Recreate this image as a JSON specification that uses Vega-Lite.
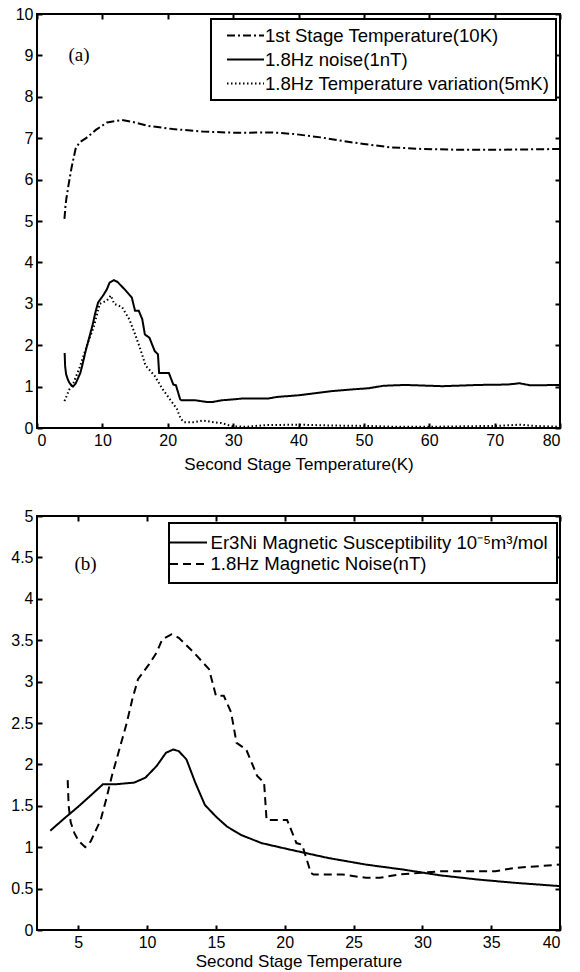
{
  "$schema": "https://vega.github.io/schema/vega-lite/v6.json",
  "background": "white",
  "padding": {"left": 7, "top": 5, "right": 5, "bottom": 5},
  "spacing": 34,
  "resolve": {"scale": {"strokeDash": "independent", "x": "independent", "y": "independent"}, "legend": {"strokeDash": "independent"}},
  "config": {
    "view": {"stroke": "black", "strokeWidth": 2},
    "axis": {"domain": false, "grid": false, "minExtent": 0, "tickColor": "black", "tickSize": -5, "tickWidth": 2, "labelPadding": 9, "labelFont": "Liberation Sans", "labelFontSize": 16, "labelColor": "black", "titleFont": "Liberation Sans", "titleFontSize": 17, "titleFontWeight": "normal", "titleColor": "black", "titlePadding": 6},
    "legend": {"orient": "none", "strokeColor": "black", "strokeWidth": 2, "fillColor": "white", "labelFont": "Liberation Sans", "labelFontSize": 18.6, "labelColor": "black", "symbolType": "M-2,0H2", "symbolSize": 342, "symbolStrokeWidth": 2, "symbolStrokeColor": "black", "labelLimit": 500}
  },
  "datasets": {
    "top": [
      {"s": "1st Stage Temperature(10K)", "T": 4.2, "v": 5.05},
      {"s": "1st Stage Temperature(10K)", "T": 4.35, "v": 5.35},
      {"s": "1st Stage Temperature(10K)", "T": 4.5, "v": 5.55},
      {"s": "1st Stage Temperature(10K)", "T": 4.8, "v": 5.85},
      {"s": "1st Stage Temperature(10K)", "T": 5.3, "v": 6.3},
      {"s": "1st Stage Temperature(10K)", "T": 5.9, "v": 6.74},
      {"s": "1st Stage Temperature(10K)", "T": 6.5, "v": 6.9},
      {"s": "1st Stage Temperature(10K)", "T": 7.5, "v": 7.0},
      {"s": "1st Stage Temperature(10K)", "T": 9.0, "v": 7.2},
      {"s": "1st Stage Temperature(10K)", "T": 10.7, "v": 7.38},
      {"s": "1st Stage Temperature(10K)", "T": 13, "v": 7.44},
      {"s": "1st Stage Temperature(10K)", "T": 15, "v": 7.38},
      {"s": "1st Stage Temperature(10K)", "T": 16.9, "v": 7.3},
      {"s": "1st Stage Temperature(10K)", "T": 20.8, "v": 7.22},
      {"s": "1st Stage Temperature(10K)", "T": 25.4, "v": 7.16},
      {"s": "1st Stage Temperature(10K)", "T": 30.4, "v": 7.13},
      {"s": "1st Stage Temperature(10K)", "T": 36, "v": 7.14},
      {"s": "1st Stage Temperature(10K)", "T": 39.4, "v": 7.1},
      {"s": "1st Stage Temperature(10K)", "T": 43.4, "v": 7.02},
      {"s": "1st Stage Temperature(10K)", "T": 47.3, "v": 6.92},
      {"s": "1st Stage Temperature(10K)", "T": 50, "v": 6.86},
      {"s": "1st Stage Temperature(10K)", "T": 54, "v": 6.78},
      {"s": "1st Stage Temperature(10K)", "T": 59, "v": 6.74},
      {"s": "1st Stage Temperature(10K)", "T": 64.8, "v": 6.72},
      {"s": "1st Stage Temperature(10K)", "T": 70.4, "v": 6.72},
      {"s": "1st Stage Temperature(10K)", "T": 80, "v": 6.74},
      {"s": "1.8Hz noise(1nT)", "T": 4.23, "v": 1.81},
      {"s": "1.8Hz noise(1nT)", "T": 4.3, "v": 1.5},
      {"s": "1.8Hz noise(1nT)", "T": 4.45, "v": 1.3},
      {"s": "1.8Hz noise(1nT)", "T": 4.72, "v": 1.17},
      {"s": "1.8Hz noise(1nT)", "T": 5.0, "v": 1.08},
      {"s": "1.8Hz noise(1nT)", "T": 5.5, "v": 1.0},
      {"s": "1.8Hz noise(1nT)", "T": 5.9, "v": 1.07},
      {"s": "1.8Hz noise(1nT)", "T": 6.63, "v": 1.33},
      {"s": "1.8Hz noise(1nT)", "T": 7.03, "v": 1.58},
      {"s": "1.8Hz noise(1nT)", "T": 7.44, "v": 1.86},
      {"s": "1.8Hz noise(1nT)", "T": 7.98, "v": 2.18},
      {"s": "1.8Hz noise(1nT)", "T": 8.52, "v": 2.5},
      {"s": "1.8Hz noise(1nT)", "T": 8.93, "v": 2.79},
      {"s": "1.8Hz noise(1nT)", "T": 9.34, "v": 3.03},
      {"s": "1.8Hz noise(1nT)", "T": 10.15, "v": 3.21},
      {"s": "1.8Hz noise(1nT)", "T": 10.69, "v": 3.35},
      {"s": "1.8Hz noise(1nT)", "T": 11.1, "v": 3.51},
      {"s": "1.8Hz noise(1nT)", "T": 11.77, "v": 3.57},
      {"s": "1.8Hz noise(1nT)", "T": 12.3, "v": 3.53},
      {"s": "1.8Hz noise(1nT)", "T": 13.4, "v": 3.35},
      {"s": "1.8Hz noise(1nT)", "T": 14.5, "v": 3.15},
      {"s": "1.8Hz noise(1nT)", "T": 15.0, "v": 2.83},
      {"s": "1.8Hz noise(1nT)", "T": 15.57, "v": 2.83},
      {"s": "1.8Hz noise(1nT)", "T": 16.1, "v": 2.63},
      {"s": "1.8Hz noise(1nT)", "T": 16.5, "v": 2.26},
      {"s": "1.8Hz noise(1nT)", "T": 17.2, "v": 2.18},
      {"s": "1.8Hz noise(1nT)", "T": 18.0, "v": 1.86},
      {"s": "1.8Hz noise(1nT)", "T": 18.5, "v": 1.78},
      {"s": "1.8Hz noise(1nT)", "T": 18.68, "v": 1.33},
      {"s": "1.8Hz noise(1nT)", "T": 20.17, "v": 1.33},
      {"s": "1.8Hz noise(1nT)", "T": 20.85, "v": 1.05},
      {"s": "1.8Hz noise(1nT)", "T": 21.26, "v": 1.03},
      {"s": "1.8Hz noise(1nT)", "T": 21.9, "v": 0.69},
      {"s": "1.8Hz noise(1nT)", "T": 22.1, "v": 0.67},
      {"s": "1.8Hz noise(1nT)", "T": 24.2, "v": 0.67},
      {"s": "1.8Hz noise(1nT)", "T": 25.9, "v": 0.63},
      {"s": "1.8Hz noise(1nT)", "T": 26.9, "v": 0.63},
      {"s": "1.8Hz noise(1nT)", "T": 28.3, "v": 0.67},
      {"s": "1.8Hz noise(1nT)", "T": 29.9, "v": 0.69},
      {"s": "1.8Hz noise(1nT)", "T": 31.3, "v": 0.71},
      {"s": "1.8Hz noise(1nT)", "T": 35.3, "v": 0.71},
      {"s": "1.8Hz noise(1nT)", "T": 36.7, "v": 0.75},
      {"s": "1.8Hz noise(1nT)", "T": 40, "v": 0.79},
      {"s": "1.8Hz noise(1nT)", "T": 42, "v": 0.83},
      {"s": "1.8Hz noise(1nT)", "T": 45, "v": 0.89},
      {"s": "1.8Hz noise(1nT)", "T": 48, "v": 0.93},
      {"s": "1.8Hz noise(1nT)", "T": 50.7, "v": 0.96},
      {"s": "1.8Hz noise(1nT)", "T": 53, "v": 1.02},
      {"s": "1.8Hz noise(1nT)", "T": 56.3, "v": 1.04},
      {"s": "1.8Hz noise(1nT)", "T": 62, "v": 1.01},
      {"s": "1.8Hz noise(1nT)", "T": 67.6, "v": 1.04},
      {"s": "1.8Hz noise(1nT)", "T": 72, "v": 1.05},
      {"s": "1.8Hz noise(1nT)", "T": 73.8, "v": 1.08},
      {"s": "1.8Hz noise(1nT)", "T": 75.5, "v": 1.03},
      {"s": "1.8Hz noise(1nT)", "T": 80, "v": 1.04},
      {"s": "1.8Hz Temperature variation(5mK)", "T": 4.2, "v": 0.65},
      {"s": "1.8Hz Temperature variation(5mK)", "T": 5.0, "v": 0.95},
      {"s": "1.8Hz Temperature variation(5mK)", "T": 5.6, "v": 1.1},
      {"s": "1.8Hz Temperature variation(5mK)", "T": 6.5, "v": 1.45},
      {"s": "1.8Hz Temperature variation(5mK)", "T": 7.3, "v": 1.83},
      {"s": "1.8Hz Temperature variation(5mK)", "T": 8.0, "v": 2.15},
      {"s": "1.8Hz Temperature variation(5mK)", "T": 8.7, "v": 2.45},
      {"s": "1.8Hz Temperature variation(5mK)", "T": 9.6, "v": 3.0},
      {"s": "1.8Hz Temperature variation(5mK)", "T": 10.7, "v": 3.08},
      {"s": "1.8Hz Temperature variation(5mK)", "T": 11.3, "v": 3.2},
      {"s": "1.8Hz Temperature variation(5mK)", "T": 11.8, "v": 3.0},
      {"s": "1.8Hz Temperature variation(5mK)", "T": 13, "v": 2.92},
      {"s": "1.8Hz Temperature variation(5mK)", "T": 14.1, "v": 2.63},
      {"s": "1.8Hz Temperature variation(5mK)", "T": 14.9, "v": 2.31},
      {"s": "1.8Hz Temperature variation(5mK)", "T": 15.8, "v": 1.91},
      {"s": "1.8Hz Temperature variation(5mK)", "T": 16.6, "v": 1.51},
      {"s": "1.8Hz Temperature variation(5mK)", "T": 18, "v": 1.26},
      {"s": "1.8Hz Temperature variation(5mK)", "T": 19.2, "v": 0.94},
      {"s": "1.8Hz Temperature variation(5mK)", "T": 20.3, "v": 0.7},
      {"s": "1.8Hz Temperature variation(5mK)", "T": 21.4, "v": 0.46},
      {"s": "1.8Hz Temperature variation(5mK)", "T": 22, "v": 0.22},
      {"s": "1.8Hz Temperature variation(5mK)", "T": 22.5, "v": 0.14},
      {"s": "1.8Hz Temperature variation(5mK)", "T": 24, "v": 0.14},
      {"s": "1.8Hz Temperature variation(5mK)", "T": 25.4, "v": 0.18},
      {"s": "1.8Hz Temperature variation(5mK)", "T": 27, "v": 0.14},
      {"s": "1.8Hz Temperature variation(5mK)", "T": 28.2, "v": 0.12},
      {"s": "1.8Hz Temperature variation(5mK)", "T": 29.9, "v": 0.04},
      {"s": "1.8Hz Temperature variation(5mK)", "T": 32, "v": 0.03},
      {"s": "1.8Hz Temperature variation(5mK)", "T": 35, "v": 0.07},
      {"s": "1.8Hz Temperature variation(5mK)", "T": 40, "v": 0.08},
      {"s": "1.8Hz Temperature variation(5mK)", "T": 45, "v": 0.06},
      {"s": "1.8Hz Temperature variation(5mK)", "T": 50, "v": 0.05},
      {"s": "1.8Hz Temperature variation(5mK)", "T": 55, "v": 0.03},
      {"s": "1.8Hz Temperature variation(5mK)", "T": 60, "v": 0.03},
      {"s": "1.8Hz Temperature variation(5mK)", "T": 65, "v": 0.04},
      {"s": "1.8Hz Temperature variation(5mK)", "T": 70, "v": 0.05},
      {"s": "1.8Hz Temperature variation(5mK)", "T": 74, "v": 0.08},
      {"s": "1.8Hz Temperature variation(5mK)", "T": 76, "v": 0.05},
      {"s": "1.8Hz Temperature variation(5mK)", "T": 80, "v": 0.03}
    ],
    "bottom": [
      {"s": "Er3Ni Magnetic Susceptibility 10⁻⁵m³/mol", "T": 2.97, "v": 1.2},
      {"s": "Er3Ni Magnetic Susceptibility 10⁻⁵m³/mol", "T": 4.0, "v": 1.35},
      {"s": "Er3Ni Magnetic Susceptibility 10⁻⁵m³/mol", "T": 5.0, "v": 1.49},
      {"s": "Er3Ni Magnetic Susceptibility 10⁻⁵m³/mol", "T": 6.0, "v": 1.64},
      {"s": "Er3Ni Magnetic Susceptibility 10⁻⁵m³/mol", "T": 6.79, "v": 1.76},
      {"s": "Er3Ni Magnetic Susceptibility 10⁻⁵m³/mol", "T": 7.7, "v": 1.76},
      {"s": "Er3Ni Magnetic Susceptibility 10⁻⁵m³/mol", "T": 9.06, "v": 1.78},
      {"s": "Er3Ni Magnetic Susceptibility 10⁻⁵m³/mol", "T": 9.88, "v": 1.84},
      {"s": "Er3Ni Magnetic Susceptibility 10⁻⁵m³/mol", "T": 10.69, "v": 1.98},
      {"s": "Er3Ni Magnetic Susceptibility 10⁻⁵m³/mol", "T": 11.37, "v": 2.14},
      {"s": "Er3Ni Magnetic Susceptibility 10⁻⁵m³/mol", "T": 11.9, "v": 2.18},
      {"s": "Er3Ni Magnetic Susceptibility 10⁻⁵m³/mol", "T": 12.3, "v": 2.16},
      {"s": "Er3Ni Magnetic Susceptibility 10⁻⁵m³/mol", "T": 12.86, "v": 2.06},
      {"s": "Er3Ni Magnetic Susceptibility 10⁻⁵m³/mol", "T": 13.5, "v": 1.78},
      {"s": "Er3Ni Magnetic Susceptibility 10⁻⁵m³/mol", "T": 14.2, "v": 1.51},
      {"s": "Er3Ni Magnetic Susceptibility 10⁻⁵m³/mol", "T": 15.0, "v": 1.37},
      {"s": "Er3Ni Magnetic Susceptibility 10⁻⁵m³/mol", "T": 15.8, "v": 1.25},
      {"s": "Er3Ni Magnetic Susceptibility 10⁻⁵m³/mol", "T": 16.8, "v": 1.15},
      {"s": "Er3Ni Magnetic Susceptibility 10⁻⁵m³/mol", "T": 18.3, "v": 1.05},
      {"s": "Er3Ni Magnetic Susceptibility 10⁻⁵m³/mol", "T": 20.4, "v": 0.97},
      {"s": "Er3Ni Magnetic Susceptibility 10⁻⁵m³/mol", "T": 23.15, "v": 0.87},
      {"s": "Er3Ni Magnetic Susceptibility 10⁻⁵m³/mol", "T": 25.9, "v": 0.79},
      {"s": "Er3Ni Magnetic Susceptibility 10⁻⁵m³/mol", "T": 28.6, "v": 0.73},
      {"s": "Er3Ni Magnetic Susceptibility 10⁻⁵m³/mol", "T": 31.3, "v": 0.66},
      {"s": "Er3Ni Magnetic Susceptibility 10⁻⁵m³/mol", "T": 34.0, "v": 0.61},
      {"s": "Er3Ni Magnetic Susceptibility 10⁻⁵m³/mol", "T": 36.7, "v": 0.57},
      {"s": "Er3Ni Magnetic Susceptibility 10⁻⁵m³/mol", "T": 40, "v": 0.53},
      {"s": "1.8Hz Magnetic Noise(nT)", "T": 4.23, "v": 1.81},
      {"s": "1.8Hz Magnetic Noise(nT)", "T": 4.3, "v": 1.5},
      {"s": "1.8Hz Magnetic Noise(nT)", "T": 4.45, "v": 1.3},
      {"s": "1.8Hz Magnetic Noise(nT)", "T": 4.72, "v": 1.17},
      {"s": "1.8Hz Magnetic Noise(nT)", "T": 5.0, "v": 1.08},
      {"s": "1.8Hz Magnetic Noise(nT)", "T": 5.5, "v": 1.0},
      {"s": "1.8Hz Magnetic Noise(nT)", "T": 5.9, "v": 1.07},
      {"s": "1.8Hz Magnetic Noise(nT)", "T": 6.63, "v": 1.33},
      {"s": "1.8Hz Magnetic Noise(nT)", "T": 7.03, "v": 1.58},
      {"s": "1.8Hz Magnetic Noise(nT)", "T": 7.44, "v": 1.86},
      {"s": "1.8Hz Magnetic Noise(nT)", "T": 7.98, "v": 2.18},
      {"s": "1.8Hz Magnetic Noise(nT)", "T": 8.52, "v": 2.5},
      {"s": "1.8Hz Magnetic Noise(nT)", "T": 8.93, "v": 2.79},
      {"s": "1.8Hz Magnetic Noise(nT)", "T": 9.34, "v": 3.03},
      {"s": "1.8Hz Magnetic Noise(nT)", "T": 10.15, "v": 3.21},
      {"s": "1.8Hz Magnetic Noise(nT)", "T": 10.69, "v": 3.35},
      {"s": "1.8Hz Magnetic Noise(nT)", "T": 11.1, "v": 3.51},
      {"s": "1.8Hz Magnetic Noise(nT)", "T": 11.77, "v": 3.57},
      {"s": "1.8Hz Magnetic Noise(nT)", "T": 12.3, "v": 3.53},
      {"s": "1.8Hz Magnetic Noise(nT)", "T": 13.4, "v": 3.35},
      {"s": "1.8Hz Magnetic Noise(nT)", "T": 14.5, "v": 3.15},
      {"s": "1.8Hz Magnetic Noise(nT)", "T": 15.0, "v": 2.83},
      {"s": "1.8Hz Magnetic Noise(nT)", "T": 15.57, "v": 2.83},
      {"s": "1.8Hz Magnetic Noise(nT)", "T": 16.1, "v": 2.63},
      {"s": "1.8Hz Magnetic Noise(nT)", "T": 16.5, "v": 2.26},
      {"s": "1.8Hz Magnetic Noise(nT)", "T": 17.2, "v": 2.18},
      {"s": "1.8Hz Magnetic Noise(nT)", "T": 18.0, "v": 1.86},
      {"s": "1.8Hz Magnetic Noise(nT)", "T": 18.5, "v": 1.78},
      {"s": "1.8Hz Magnetic Noise(nT)", "T": 18.68, "v": 1.33},
      {"s": "1.8Hz Magnetic Noise(nT)", "T": 20.17, "v": 1.33},
      {"s": "1.8Hz Magnetic Noise(nT)", "T": 20.85, "v": 1.05},
      {"s": "1.8Hz Magnetic Noise(nT)", "T": 21.26, "v": 1.03},
      {"s": "1.8Hz Magnetic Noise(nT)", "T": 21.9, "v": 0.69},
      {"s": "1.8Hz Magnetic Noise(nT)", "T": 22.1, "v": 0.67},
      {"s": "1.8Hz Magnetic Noise(nT)", "T": 24.2, "v": 0.67},
      {"s": "1.8Hz Magnetic Noise(nT)", "T": 25.9, "v": 0.63},
      {"s": "1.8Hz Magnetic Noise(nT)", "T": 26.9, "v": 0.63},
      {"s": "1.8Hz Magnetic Noise(nT)", "T": 28.3, "v": 0.67},
      {"s": "1.8Hz Magnetic Noise(nT)", "T": 29.9, "v": 0.69},
      {"s": "1.8Hz Magnetic Noise(nT)", "T": 31.3, "v": 0.71},
      {"s": "1.8Hz Magnetic Noise(nT)", "T": 35.3, "v": 0.71},
      {"s": "1.8Hz Magnetic Noise(nT)", "T": 36.7, "v": 0.75},
      {"s": "1.8Hz Magnetic Noise(nT)", "T": 40, "v": 0.79}
    ]
  },
  "vconcat": [
    {
      "width": 523,
      "height": 414,
      "resolve": {"axis": {"x": "independent", "y": "independent"}},
      "layer": [
        {
          "data": {"name": "top"},
          "mark": {"type": "line", "color": "black", "strokeWidth": 2},
          "encoding": {
            "x": {"field": "T", "type": "quantitative", "scale": {"domain": [0, 80], "nice": false}, "axis": {"values": [0, 10, 20, 30, 40, 50, 60, 70, 80], "title": "Second Stage Temperature(K)", "titlePadding": 8}},
            "y": {"field": "v", "type": "quantitative", "scale": {"domain": [0, 10], "nice": false}, "axis": {"values": [0, 1, 2, 3, 4, 5, 6, 7, 8, 9, 10], "title": null, "minExtent": 29}},
            "strokeDash": {"field": "s", "type": "nominal", "scale": {"domain": ["1st Stage Temperature(10K)", "1.8Hz noise(1nT)", "1.8Hz Temperature variation(5mK)"], "range": [[8, 3, 2, 3], [1, 0], [1.5, 2.5]]}, "legend": {"title": null, "legendX": 174, "legendY": 5, "padding": 6, "symbolOffset": 18, "labelOffset": 9, "rowPadding": 3}}
          }
        },
        {
          "data": {"values": [{"x": 4.8, "y": 9, "t": "(a)"}]},
          "mark": {"type": "text", "align": "left", "baseline": "middle", "font": "Liberation Serif", "fontSize": 19, "color": "black"},
          "encoding": {
            "x": {"field": "x", "type": "quantitative", "axis": {"orient": "top", "labels": false, "title": null, "values": [0, 10, 20, 30, 40, 50, 60, 70, 80]}},
            "y": {"field": "y", "type": "quantitative", "axis": {"orient": "right", "labels": false, "title": null, "values": [0, 1, 2, 3, 4, 5, 6, 7, 8, 9, 10]}},
            "text": {"field": "t"}
          }
        }
      ]
    },
    {
      "width": 523,
      "height": 414,
      "resolve": {"axis": {"x": "independent", "y": "independent"}},
      "layer": [
        {
          "data": {"name": "bottom"},
          "mark": {"type": "line", "color": "black", "strokeWidth": 2},
          "encoding": {
            "x": {"field": "T", "type": "quantitative", "scale": {"domain": [2, 40], "nice": false}, "axis": {"values": [5, 10, 15, 20, 25, 30, 35, 40], "title": "Second Stage Temperature", "titlePadding": 3}},
            "y": {"field": "v", "type": "quantitative", "scale": {"domain": [0, 5], "nice": false}, "axis": {"values": [0, 0.5, 1, 1.5, 2, 2.5, 3, 3.5, 4, 4.5, 5], "format": "~g", "title": null, "minExtent": 29}},
            "strokeDash": {"field": "s", "type": "nominal", "scale": {"domain": ["Er3Ni Magnetic Susceptibility 10⁻⁵m³/mol", "1.8Hz Magnetic Noise(nT)"], "range": [[1, 0], [8, 5]]}, "legend": {"title": null, "legendX": 132, "legendY": 7, "padding": 9, "symbolOffset": 0, "labelOffset": 11.5, "rowPadding": 0.5}}
          }
        },
        {
          "data": {"values": [{"x": 4.72, "y": 4.42, "t": "(b)"}]},
          "mark": {"type": "text", "align": "left", "baseline": "middle", "font": "Liberation Serif", "fontSize": 19, "color": "black"},
          "encoding": {
            "x": {"field": "x", "type": "quantitative", "axis": {"orient": "top", "labels": false, "title": null, "values": [5, 10, 15, 20, 25, 30, 35, 40]}},
            "y": {"field": "y", "type": "quantitative", "axis": {"orient": "right", "labels": false, "title": null, "values": [0, 0.5, 1, 1.5, 2, 2.5, 3, 3.5, 4, 4.5, 5]}},
            "text": {"field": "t"}
          }
        }
      ]
    }
  ]
}
